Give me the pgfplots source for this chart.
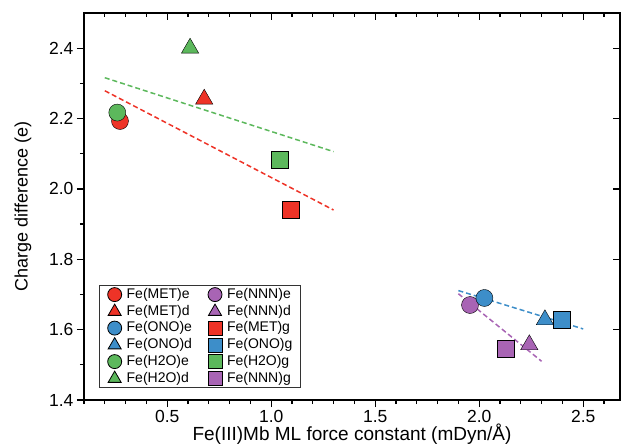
\documentclass[border=0pt]{standalone}
\usepackage{fontspec}
\setmainfont{Liberation Sans}
\usepackage{pgfplots}
\pgfplotsset{compat=1.18}
\definecolor{cred}{HTML}{EE3327}
\definecolor{cgreen}{HTML}{5CB85C}
\definecolor{cblue}{HTML}{3D8EC9}
\definecolor{cpurple}{HTML}{A864B4}
\definecolor{cedge}{HTML}{333333}
\begin{document}
\begin{tikzpicture}
\pgfplotsset{
  common/.style={
    scale only axis, width=536pt, height=387pt,
    xmin=0.1, xmax=2.677, ymin=1.4, ymax=2.5,
    axis line style={line width=1.5pt},
    every tick/.style={line width=1.2pt, black},
    major tick length=7pt, minor tick length=4pt,
    ticklabel style={font=\fontsize{17.5}{20}\selectfont},
    /pgf/number format/.cd, fixed, fixed zerofill, precision=1, assume math mode=true,
  },
  mk/.style={only marks, mark options={draw=cedge, line width=0.9pt}},
  fitline/.style={dashed, line width=1.5pt, dash pattern=on 5pt off 3pt, forget plot},
}
\begin{axis}[common,
  xtick pos=bottom, ytick pos=left, tick align=outside,
  xtick={0.5,1.0,1.5,2.0,2.5},
  ytick={1.4,1.6,1.8,2.0,2.2,2.4},
  minor xtick={0.1,0.2,0.3,0.4,0.6,0.7,0.8,0.9,1.1,1.2,1.3,1.4,1.6,1.7,1.8,1.9,2.1,2.2,2.3,2.4,2.6},
  minor ytick={1.5,1.7,1.9,2.1,2.3},
  xlabel={Fe(III)Mb ML force constant (mDyn/Å)},
  ylabel={Charge difference (e)},
  xlabel style={at={(axis description cs:0.5,-0.1034)}, anchor=base, font=\fontsize{19}{22}\selectfont},
  ylabel style={at={(axis description cs:-0.1138,0.5)}, anchor=center, font=\fontsize{18}{21}\selectfont},
  legend columns=2,
  legend cell align=left,
  legend image code/.code={\draw[#1] plot coordinates {(0pt,0pt)};},
  legend style={at={(rel axis cs:0.0285,0.031)}, anchor=south west,
    draw=black!80, line width=0.8pt, font=\fontsize{14}{16}\selectfont,
    inner xsep=8pt, inner ysep=2pt,
    nodes={inner sep=0pt, text height=10.5pt, text depth=3.5pt, font=\fontsize{14}{16}\selectfont},
    row sep=2.5pt,
    /tikz/every odd column/.append style={column sep=5pt},
    /tikz/every even column/.append style={column sep=16pt}},
]
% legend entries (row-wise order)
\addlegendimage{mk, mark=*, mark size=7pt, mark options={fill=cred}}
\addlegendentry{Fe(MET)e}
\addlegendimage{mk, mark=*, mark size=7pt, mark options={fill=cpurple}}
\addlegendentry{Fe(NNN)e}
\addlegendimage{mk, mark=triangle*, mark size=7.5pt, mark options={fill=cred}}
\addlegendentry{Fe(MET)d}
\addlegendimage{mk, mark=triangle*, mark size=7.5pt, mark options={fill=cpurple}}
\addlegendentry{Fe(NNN)d}
\addlegendimage{mk, mark=*, mark size=7pt, mark options={fill=cblue}}
\addlegendentry{Fe(ONO)e}
\addlegendimage{mk, mark=square*, mark size=7pt, mark options={fill=cred}}
\addlegendentry{Fe(MET)g}
\addlegendimage{mk, mark=triangle*, mark size=7.5pt, mark options={fill=cblue}}
\addlegendentry{Fe(ONO)d}
\addlegendimage{mk, mark=square*, mark size=7pt, mark options={fill=cblue}}
\addlegendentry{Fe(ONO)g}
\addlegendimage{mk, mark=*, mark size=7pt, mark options={fill=cgreen}}
\addlegendentry{Fe(H2O)e}
\addlegendimage{mk, mark=square*, mark size=7pt, mark options={fill=cgreen}}
\addlegendentry{Fe(H2O)g}
\addlegendimage{mk, mark=triangle*, mark size=7.5pt, mark options={fill=cgreen}}
\addlegendentry{Fe(H2O)d}
\addlegendimage{mk, mark=square*, mark size=7pt, mark options={fill=cpurple}}
\addlegendentry{Fe(NNN)g}
% fit lines
\addplot[fitline, color=cgreen] coordinates {(0.2,2.316) (1.3,2.106)};
\addplot[fitline, color=cred] coordinates {(0.2,2.279) (1.3,1.940)};
\addplot[fitline, color=cblue] coordinates {(1.9,1.711) (2.5,1.602)};
\addplot[fitline, color=cpurple] coordinates {(1.9,1.702) (2.3,1.510)};
% data
\addplot[mk, forget plot, mark=*, mark size=8.5pt, mark options={fill=cred}] coordinates {(0.273,2.193)};
\addplot[mk, forget plot, mark=*, mark size=8.5pt, mark options={fill=cgreen}] coordinates {(0.260,2.217)};
\addplot[mk, forget plot, mark=triangle*, mark size=10pt, mark options={fill=cgreen}] coordinates {(0.610,2.400)};
\addplot[mk, forget plot, mark=triangle*, mark size=10pt, mark options={fill=cred}] coordinates {(0.678,2.255)};
\addplot[mk, forget plot, mark=square*, mark size=8.5pt, mark options={fill=cgreen}] coordinates {(1.042,2.082)};
\addplot[mk, forget plot, mark=square*, mark size=8.5pt, mark options={fill=cred}] coordinates {(1.094,1.942)};
\addplot[mk, forget plot, mark=*, mark size=8.5pt, mark options={fill=cpurple}] coordinates {(1.956,1.670)};
\addplot[mk, forget plot, mark=*, mark size=8.5pt, mark options={fill=cblue}] coordinates {(2.025,1.690)};
\addplot[mk, forget plot, mark=triangle*, mark size=10pt, mark options={fill=cblue}] coordinates {(2.316,1.628)};
\addplot[mk, forget plot, mark=square*, mark size=8.5pt, mark options={fill=cblue}] coordinates {(2.397,1.628)};
\addplot[mk, forget plot, mark=square*, mark size=8.5pt, mark options={fill=cpurple}] coordinates {(2.127,1.547)};
\addplot[mk, forget plot, mark=triangle*, mark size=10pt, mark options={fill=cpurple}] coordinates {(2.241,1.557)};
\end{axis}
\begin{axis}[common,
  xtick pos=top, ytick pos=right, tick align=inside,
  xtick={0.5,1.0,1.5,2.0,2.5},
  ytick={1.4,1.6,1.8,2.0,2.2,2.4},
  minor xtick={0.1,0.2,0.3,0.4,0.6,0.7,0.8,0.9,1.1,1.2,1.3,1.4,1.6,1.7,1.8,1.9,2.1,2.2,2.3,2.4,2.6},
  xticklabels={}, yticklabels={},
]
\end{axis}
\pgfresetboundingbox
\path[use as bounding box] (-84pt,-47pt) rectangle (537pt,400pt);
\end{tikzpicture}
\end{document}
